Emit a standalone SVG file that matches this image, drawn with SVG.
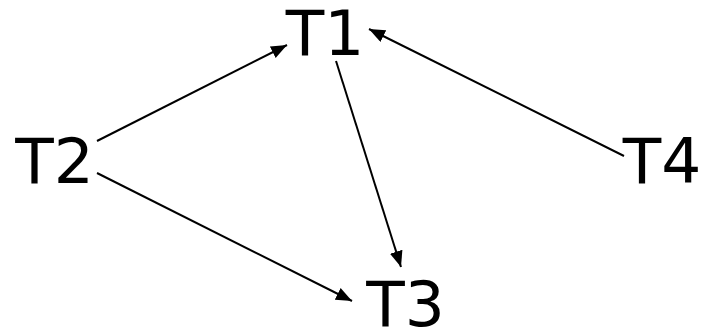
<svg xmlns="http://www.w3.org/2000/svg" width="711" height="328" viewBox="0 0 711 328">
<defs>
<style>
.lbl{font-family:"DejaVu Sans","Liberation Sans",sans-serif;font-size:63px;fill:#000}
.edge{stroke:#000;stroke-width:2;fill:none;marker-end:url(#ah)}
</style>
<marker id="ah" viewBox="0 0 16 13" refX="16" refY="6.5" markerWidth="16" markerHeight="13" markerUnits="userSpaceOnUse" orient="auto">
<path d="M0,0 L16,6.5 L0,13 Z" fill="#000"/>
</marker>
</defs>
<rect width="711" height="328" fill="#fff"/>
<g id="connectors">
<line class="edge" x1="97" y1="141" x2="287" y2="45"/>
<line class="edge" x1="97" y1="173" x2="352" y2="301"/>
<line class="edge" x1="336" y1="61" x2="401" y2="267"/>
<line class="edge" x1="624" y1="156" x2="369" y2="29"/>
</g>
<g id="T1"><text class="lbl" x="325" y="54.5" text-anchor="middle">T1</text></g>
<g id="T2"><text class="lbl" x="54.5" y="183" text-anchor="middle">T2</text></g>
<g id="T3"><text class="lbl" x="405.5" y="326" text-anchor="middle">T3</text></g>
<g id="T4"><text class="lbl" x="662" y="183" text-anchor="middle">T4</text></g>
</svg>
